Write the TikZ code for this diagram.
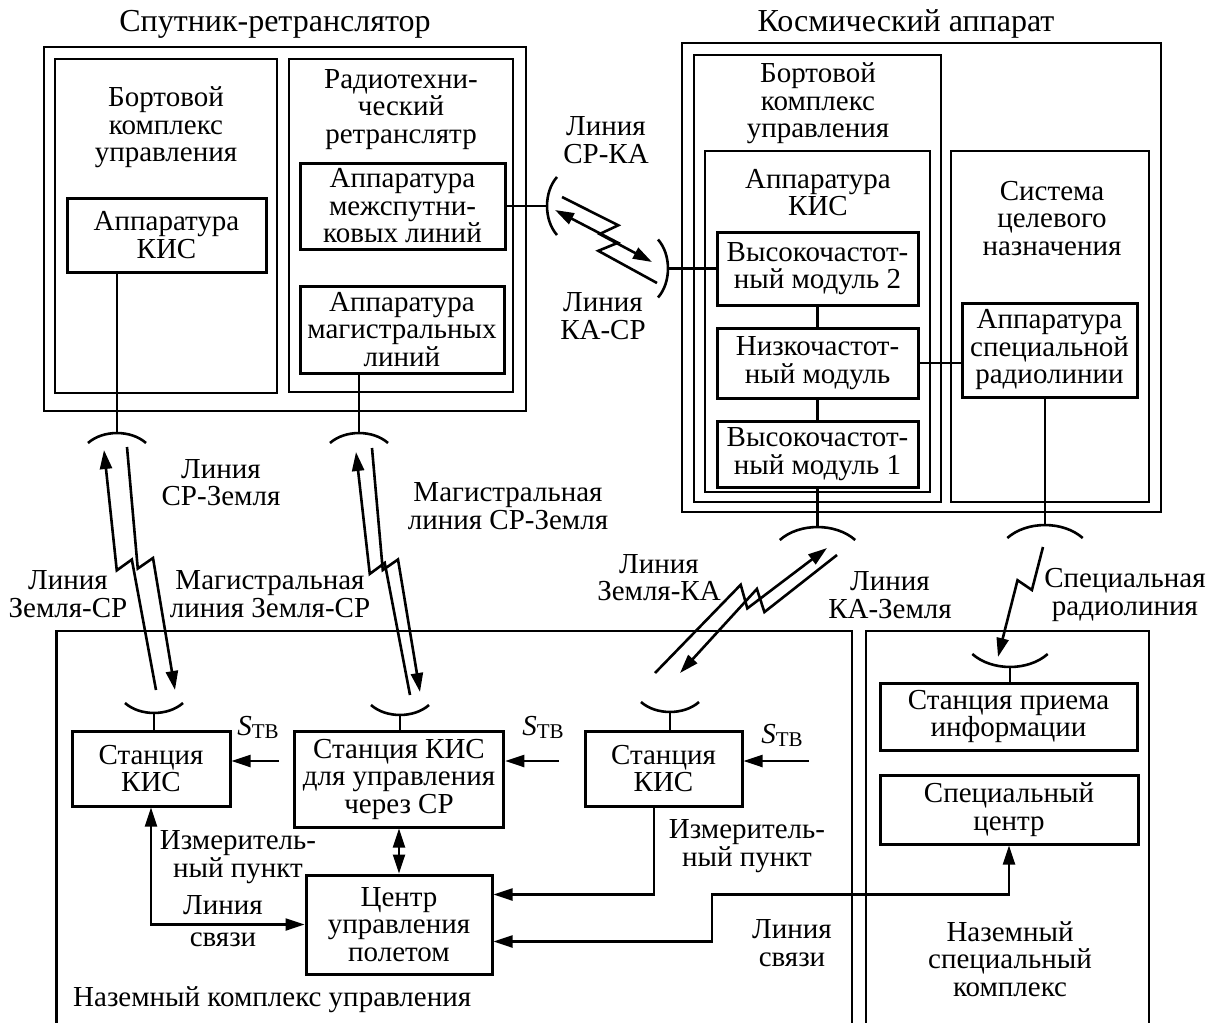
\documentclass[tikz,border=0pt]{standalone}
\usepackage{fontspec}
\setmainfont{Liberation Serif}
\usetikzlibrary{arrows.meta, calc}
\newcommand\figfont{\fontsize{29pt}{27.5pt}\selectfont\lineskiplimit=-30pt}
\newcommand\titlefont{\fontsize{32pt}{34pt}\selectfont}
\newcommand\Stv{{\itshape S}\raisebox{-3pt}{\fontsize{21pt}{21pt}\selectfont ТВ}}
\newcommand\bolt[7][]{\draw[bolt,#1] (#2) -- ($(#2)!#4!(#3)!#5!90:(#3)$)
    -- ($(#2)!#6!(#3)!#7!90:(#3)$) -- (#3);}

\begin{document}
\begin{tikzpicture}[x=1pt, y=-1pt, font=\figfont,
    box/.style={draw, line width=3pt, inner sep=0pt, align=center},
    frame/.style={draw, line width=2.4pt, inner sep=0pt},
    lbl/.style={align=center, inner sep=0pt},
    wire/.style={line width=2.3pt},
    bolt/.style={line width=2.6pt},
    >={Triangle[length=19pt, width=12pt]},
    dish/.pic={\draw[line width=2.6pt] (-29,10) .. controls (-14,-3.3) and (14,-3.3) .. (29,10);}
  ]
  \useasboundingbox (0,0) rectangle (1216,1023);

  \node[lbl, font=\titlefont] (tSR) at (275,24) {Спутник-ретранслятор};
  \node[frame, minimum width=482pt, minimum height=364pt] (SR) at (285,229) {};
  \node[frame, minimum width=222pt, minimum height=334pt] (SRb) at (166,226) {};
  \node[frame, minimum width=224pt, minimum height=333pt] (SRr) at (401,225.5) {};
  \node[lbl] (SRbt) at (166,127.5) {Бортовой\\комплекс\\управления};
  \node[lbl] (SRrt) at (401,109.5) {Радиотехни-\\ческий\\ретранслятр};
  \node[box, minimum width=199pt, minimum height=74pt] (kisSR) at (166.5,235) {Аппаратура\\КИС};
  \node[box, minimum width=205pt, minimum height=86pt] (ms) at (402.5,206) {Аппаратура\\межспутни-\\ковых линий};
  \node[box, minimum width=204pt, minimum height=87pt] (mg) at (402,329.5) {Аппаратура\\магистральных\\линий};

  \node[lbl, font=\titlefont] (tKA) at (906,24) {Космический аппарат};
  \node[frame, minimum width=479pt, minimum height=469pt] (KA) at (921.5,277.5) {};
  \node[frame, minimum width=247pt, minimum height=447pt] (KAb) at (817.5,278.5) {};
  \node[frame, minimum width=225pt, minimum height=341pt] (KAk) at (817.5,321.5) {};
  \node[frame, minimum width=198pt, minimum height=351pt] (KAs) at (1050,326.5) {};
  \node[lbl] (KAbt) at (818,103.5) {Бортовой\\комплекс\\управления};
  \node[lbl] (KAkt) at (818,192.5) {Аппаратура\\КИС};
  \node[lbl] (KAst) at (1052,218.5) {Система\\целевого\\назначения};
  \node[box, minimum width=201pt, minimum height=73pt] (hf2) at (817.5,268.5) {Высокочастот-\\ный модуль 2};
  \node[box, minimum width=201pt, minimum height=70pt] (lf) at (817.5,363) {Низкочастот-\\ный модуль};
  \node[box, minimum width=201pt, minimum height=66pt] (hf1) at (817.5,454) {Высокочастот-\\ный модуль 1};
  \node[box, minimum width=175pt, minimum height=94pt] (spr) at (1049.5,350) {Аппаратура\\специальной\\радиолинии};

  \draw[line width=2.4pt] (56.5,1023) -- (56.5,631) -- (852,631) -- (852,1023);
  \draw[line width=2.4pt] (866,1023) -- (866,631) -- (1149,631) -- (1149,1023);
  \node[box, minimum width=158pt, minimum height=75pt] (st1) at (151,768.5) {Станция\\КИС};
  \node[box, minimum width=209.5pt, minimum height=96pt] (st2) at (399,779) {Станция КИС\\для управления\\через СР};
  \node[box, minimum width=157pt, minimum height=75pt] (st3) at (663.5,768.5) {Станция\\КИС};
  \node[box, minimum width=186pt, minimum height=99pt] (ctr) at (399,924.5) {Центр\\управления\\полетом};
  \node[box, minimum width=257pt, minimum height=67pt] (rcv) at (1008.5,716.5) {Станция приема\\информации};
  \node[box, minimum width=258pt, minimum height=69pt] (spc) at (1009,809.5) {Специальный\\центр};
  \node[lbl, anchor=west] (gnd) at (73,1000) {Наземный комплекс управления};
  \node[lbl] (gsp) at (1010,959) {Наземный\\специальный\\комплекс};

  \node[lbl] (l1) at (606,140) {Линия\\СР-КА};
  \node[lbl] (l2) at (603,316) {Линия\\КА-СР};
  \node[lbl] (l3) at (221,482.5) {Линия\\СР-Земля};
  \node[lbl] (l4) at (508,506) {Магистральная\\линия СР-Земля};
  \node[lbl] (l5) at (68,594) {Линия\\Земля-СР};
  \node[lbl] (l6) at (270,594) {Магистральная\\линия Земля-СР};
  \node[lbl] (l7) at (659,577.5) {Линия\\Земля-КА};
  \node[lbl] (l8) at (890,595) {Линия\\КА-Земля};
  \node[lbl] (l9) at (1125,595) {Специальная\\радиолиния};
  \node[lbl] (s1) at (258,727) {\Stv};
  \node[lbl] (s2) at (543,727) {\Stv};
  \node[lbl] (s3) at (782,735) {\Stv};
  \node[lbl] (m1) at (238,857) {Измеритель-\\ный пункт};
  \node[lbl] (m2) at (747,846) {Измеритель-\\ный пункт};
  \node[lbl] (c1) at (223,921) {Линия\\[5pt]связи};
  \node[lbl] (c2) at (792,943) {Линия\\связи};

  \coordinate (aSL) at (117,433);
  \coordinate (aSR) at (359,433);
  \coordinate (aIL) at (547,206);
  \coordinate (aIR) at (668,268.5);
  \coordinate (aKA) at (817.5,527);
  \coordinate (aSy) at (1045,525);
  \coordinate (gL) at (154,713);
  \coordinate (gM) at (400,715);
  \coordinate (gR) at (670,712);
  \coordinate (gS) at (1010,667);
  \pic at (aSL) {dish};
  \pic at (aSR) {dish};
  \pic[rotate=90] at (aIL) {dish};
  \pic[rotate=-90] at (aIR) {dish};
  \pic[scale=1.3] at (aKA) {dish};
  \pic[scale=1.3] at (aSy) {dish};
  \pic[rotate=180] at (gL) {dish};
  \pic[rotate=180] at (gM) {dish};
  \pic[rotate=180] at (gR) {dish};
  \pic[rotate=180, scale=1.3] at (gS) {dish};

  \draw[wire] (kisSR.south -| aSL) -- (aSL);
  \draw[wire] (mg.south -| aSR) -- (aSR);
  \draw[wire] (ms.east) -- (aIL);
  \draw[wire] (aIR) -- (hf2.west);
  \draw[wire] (hf2.south) -- (lf.north);
  \draw[wire] (lf.south) -- (hf1.north);
  \draw[wire] (lf.east) -- (lf.east -| spr.west);
  \draw[wire] (hf1.south) -- (aKA);
  \draw[wire] (spr.south -| aSy) -- (aSy);
  \draw[wire] (gL) -- (gL |- st1.north);
  \draw[wire] (gM) -- (gM |- st2.north);
  \draw[wire] (gR) -- (gR |- st3.north);
  \draw[wire] (gS) -- (gS |- rcv.north);

  \coordinate (bLa1) at (104,450);
  \coordinate (bLa2) at (156,690);
  \coordinate (bLb1) at (127,447);
  \coordinate (bLb2) at (175,690);
  \coordinate (bRa1) at (356,452);
  \coordinate (bRa2) at (410,695);
  \coordinate (bRb1) at (372,448);
  \coordinate (bRb2) at (420,692);
  \coordinate (bIa1) at (562,197);
  \coordinate (bIa2) at (652,262);
  \coordinate (bIb1) at (555,210);
  \coordinate (bIb2) at (657,283);
  \coordinate (bKa1) at (655,673);
  \coordinate (bKa2) at (827,548);
  \coordinate (bKb1) at (680,673);
  \coordinate (bKb2) at (837,555);
  \coordinate (bS1) at (1043,547);
  \coordinate (bS2) at (998,657);
  \bolt[<-]{bLa1}{bLa2}{0.49}{-13pt}{0.46}{4pt}
  \bolt[->]{bLb1}{bLb2}{0.49}{-13pt}{0.46}{4pt}
  \bolt[<-]{bRa1}{bRa2}{0.49}{-13pt}{0.46}{4pt}
  \bolt[->]{bRb1}{bRb2}{0.49}{-13pt}{0.46}{4pt}
  \bolt[->]{bIa1}{bIa2}{0.56}{10pt}{0.47}{-8pt}
  \bolt[<-]{bIb1}{bIb2}{0.56}{10pt}{0.47}{-8pt}
  \bolt[->]{bKa1}{bKa2}{0.57}{21pt}{0.53}{-2pt}
  \bolt[<-]{bKb1}{bKb2}{0.57}{21pt}{0.53}{-2pt}
  \bolt[->]{bS1}{bS2}{0.37}{6pt}{0.34}{-11pt}

  \coordinate (sL) at (279,761);
  \coordinate (sM) at (559,761);
  \coordinate (sR) at (809,761);
  \draw[wire, ->] (sL) -- (sL -| st1.east);
  \draw[wire, ->] (sM) -- (sM -| st2.east);
  \draw[wire, ->] (sR) -- (sR -| st3.east);
  \draw[wire, <->] (st2.south) -- (ctr.north);
  \draw[wire, <->] (ctr.west) -| (st1.south);
  \coordinate (cA) at ([yshift=30pt]ctr.east);
  \coordinate (cB) at ([yshift=-17pt]ctr.east);
  \coordinate (jog) at (712,894.5);
  \draw[wire, ->] ([xshift=-9.5pt]st3.south) |- (cA);
  \draw[wire, <->] (cB) -| (jog) -| (spc.south);
\end{tikzpicture}
\end{document}
